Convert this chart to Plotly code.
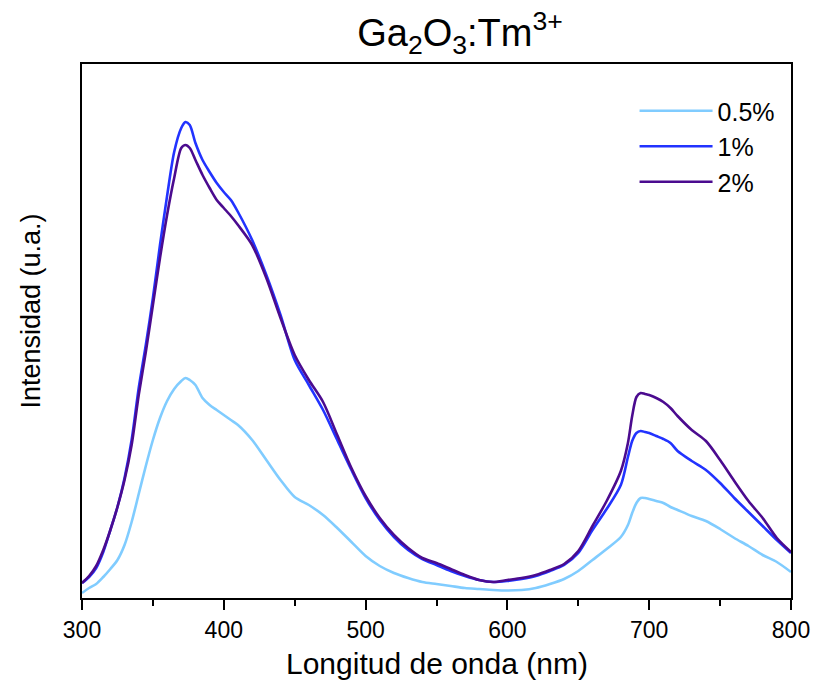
import plotly.graph_objects as go

# Emission spectra of Ga2O3:Tm3+ for three dopant concentrations
wavelength = [300, 305, 310, 315, 320, 325, 330, 335, 340, 345, 350, 355, 360, 365,
              370, 373, 376, 380, 385, 390, 395, 400, 405, 410, 420, 430, 440, 450,
              460, 470, 480, 490, 500, 510, 520, 530, 540, 550, 560, 570, 580, 590,
              600, 610, 620, 630, 640, 650, 660, 670, 680, 685, 688, 691, 694, 697,
              700, 705, 710, 715, 720, 730, 740, 750, 760, 770, 780, 790, 800]

int_05 = [5, 10, 14, 21, 29, 38, 53, 76, 104, 132, 158, 180, 197, 209,
          217, 220, 218, 213, 200, 193, 188, 183, 178, 173, 158, 138, 118, 101,
          93, 83, 70, 56, 42, 32, 25, 20, 16, 14, 12, 10, 9, 8,
          7.5, 8, 10, 14, 19, 27, 38, 49, 61, 73, 85, 95, 100, 100,
          99, 97, 95, 91, 88, 82, 77, 69, 60, 52, 43, 36, 26]

int_1 = [15, 21, 30, 46, 68, 91, 120, 158, 210, 253, 300, 353, 402, 446,
         470, 476, 473, 455, 438, 426, 415, 406, 398, 386, 358, 323, 283, 238,
         213, 188, 158, 128, 100, 78, 61, 48, 39, 33, 27, 22, 18, 16,
         17, 19, 22, 27, 33, 45, 68, 89, 113, 141, 157, 165, 167, 166,
         165, 162, 159, 155, 147, 137, 128, 115, 100, 86, 72, 58, 45]

int_2 = [15, 22, 32, 48, 68, 91, 118, 153, 203, 246, 293, 340, 383, 420,
         450, 453, 450, 438, 423, 410, 398, 390, 382, 373, 353, 320, 280, 243,
         218, 196, 163, 130, 102, 80, 63, 50, 40, 35, 29, 23, 18, 16,
         18, 20, 23, 28, 34, 47, 72, 97, 127, 155, 182, 201, 205, 204,
         203, 200, 196, 190, 182, 168, 157, 138, 117, 97, 80, 60, 46]

series = [
    ("0.5%", int_05, "#80CCFF"),
    ("1%", int_1, "#2233FF"),
    ("2%", int_2, "#4B0B8F"),
]
for _, values, _ in series:
    assert len(values) == len(wavelength)

font_family = "Liberation Sans, Arial, sans-serif"

# plot area in pixels
W, H = 822, 681
ML, MR, MT, MB = 82, 24, 64, 83
PW, PH = W - ML - MR, H - MT - MB
BOTTOM = MT + PH


def px_x(x):
    return (x - ML) / PW


def px_y(y):
    return (BOTTOM - y) / PH


fig = go.Figure()
for name, values, color in series:
    fig.add_trace(go.Scatter(
        x=wavelength, y=values, name=name, mode="lines",
        line=dict(color=color, width=2.6, shape="spline", smoothing=0.8),
    ))

fig.update_layout(
    width=W, height=H,
    margin=dict(l=ML, r=MR, t=MT, b=MB),
    paper_bgcolor="white", plot_bgcolor="white",
    font=dict(family=font_family, color="black"),
    title=dict(
        text="Ga<sub>2</sub>O<sub>3</sub>:Tm<sup>3+</sup>",
        font=dict(size=38, family=font_family, color="black"),
        x=460 / W, xanchor="center", xref="container",
        y=1 - 33 / H, yanchor="middle", yref="container",
    ),
    showlegend=True,
    legend=dict(
        x=px_x(640), y=px_y(88),
        xanchor="left", yanchor="top",
        font=dict(size=25, family=font_family, color="black"),
        bgcolor="rgba(0,0,0,0)", itemwidth=73, tracegroupgap=0,
    ),
    xaxis=dict(
        range=[300, 800], tickvals=[300, 400, 500, 600, 700, 800],
        ticks="outside", ticklen=10, tickwidth=1.6, tickcolor="black",
        minor=dict(tickvals=[350, 450, 550, 650, 750], ticks="outside",
                   ticklen=6, tickwidth=1.6, tickcolor="black"),
        showline=True, linewidth=2, linecolor="black", mirror=True,
        showgrid=False, zeroline=False,
        tickfont=dict(size=23, family=font_family, color="black"),
    ),
    yaxis=dict(
        range=[0, 534], showticklabels=False, ticks="",
        showline=True, linewidth=2, linecolor="black", mirror=True,
        showgrid=False, zeroline=False,
    ),
    annotations=[
        dict(
            text="Longitud de onda (nm)",
            x=0.5, xref="paper", y=px_y(663), yref="paper",
            xanchor="center", yanchor="middle", showarrow=False,
            font=dict(size=30, family=font_family, color="black"),
        ),
        dict(
            text="Intensidad (u.a.)", textangle=-90,
            x=px_x(30), xref="paper", y=px_y(311), yref="paper",
            xanchor="center", yanchor="middle", showarrow=False,
            font=dict(size=27, family=font_family, color="black"),
        ),
    ],
)

fig.write_html("out.html")
